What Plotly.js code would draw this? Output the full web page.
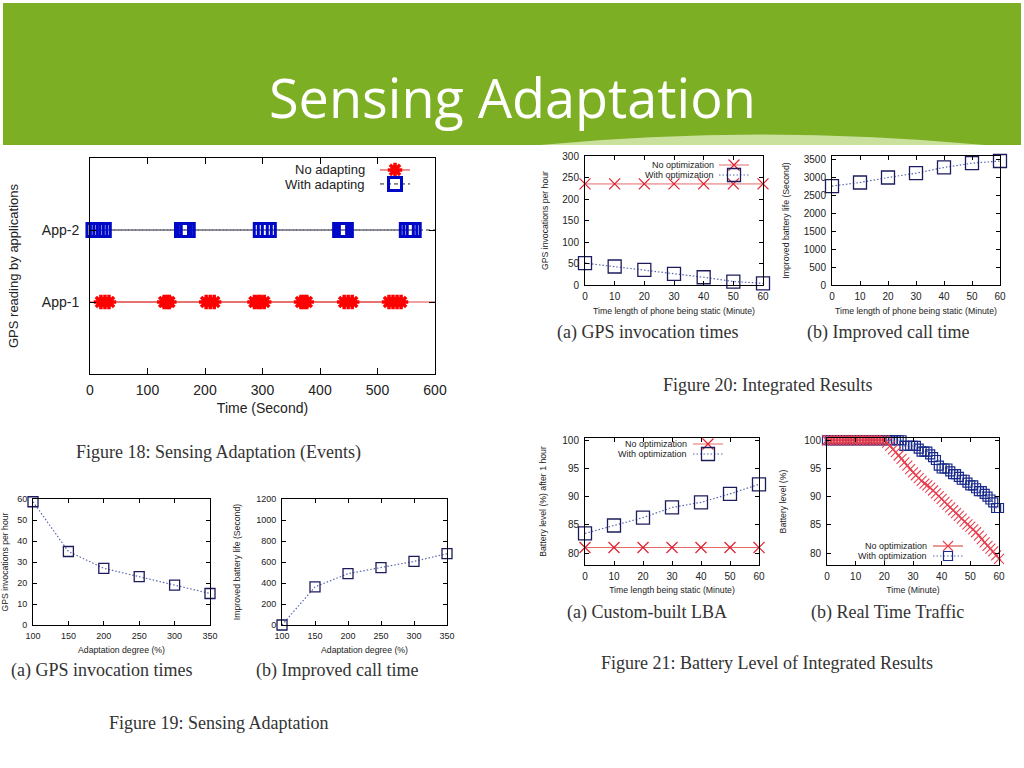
<!DOCTYPE html>
<html><head><meta charset="utf-8">
<script src="https://cdn.plot.ly/plotly-3.0.1.min.js"></script>
<style>html,body{margin:0;padding:0;background:#fff;}#chart{width:1024px;height:768px;}</style>
</head><body><div id="chart"></div>
<script>
// ---------- DATA ----------
// Figure 18: Sensing Adaptation (Events)
const apps = ['App-1', 'App-2'];
const fig18Span = [0, 600];
const app1Events = [19, 26, 33, 129, 134, 138, 202, 209, 216, 286, 292, 297, 303, 367, 372, 377, 442, 449, 456, 520, 527, 534, 541];
const app2Events = [6, 12, 18, 24, 160, 165, 170, 297, 304, 311, 435, 440, 445, 551, 557, 563];
// Figure 19
const adaptDegree = [100, 150, 200, 250, 300, 350];
const gpsByDegree = [58.7, 35, 27, 23, 19, 15];
const callByDegree = [0, 363, 489, 546, 606, 679];
// Figure 20
const staticMinutes = [0, 10, 20, 30, 40, 50, 60];
const gpsNoOpt = [235, 235, 235, 235, 235, 235, 235];
const gpsWithOpt = [51, 43, 35, 26, 18, 8, 4];
const callTimeGain = [2760, 2860, 3000, 3120, 3280, 3400, 3460];
// Figure 21 (a)
const lbaNoOpt = [81, 81, 81, 81, 81, 81, 81];
const lbaWithOpt = [83.5, 84.9, 86.3, 88.1, 89.0, 90.5, 92.2];
// Figure 21 (b)
const trafficMinutes = [0,1,2,3,4,5,6,7,8,9,10,11,12,13,14,15,16,17,18,19,20,21,22,23,24,25,26,27,28,29,30,31,32,33,34,35,36,37,38,39,40,41,42,43,44,45,46,47,48,49,50,51,52,53,54,55,56,57,58,59,60];
const trafficNoOpt = [100,100,100,100,100,100,100,100,100,100,100,100,100,100,100,100,100,100,100,100,100,
  99.6,99.0,98.4,97.9,97.3,96.7,96.1,95.5,94.9,94.3,
  93.8,93.3,92.8,92.3,92.0,91.6,91.1,90.6,90.1,89.6,
  89.1,88.6,88.1,87.6,87.1,86.6,86.1,85.6,85.1,84.7,
  84.2,83.7,83.1,82.5,81.9,81.3,80.8,80.3,79.6,79.0];
const trafficWithOpt = [100,100,100,100,100,100,100,100,100,100,100,100,100,100,100,100,100,100,100,100,100,100,100,100,100,100,100,
  99,99,99,
  99,99,98.5,98,98,98,97.5,97,96.5,95.5,
  95,95,95,94.5,94,94,93.5,93,93,92.5,
  92,92,91.5,91,91,90.5,90,89.5,89,88,88];

// ---------- STYLE HELPERS ----------
const W = 1024, H = 768;
const px = x => x / W;
const py = y => 1 - y / H;
const SANS = 'Liberation Sans, Arial, sans-serif';
const SERIF = 'Liberation Serif, Times New Roman, serif';
const RED = '#e0202e', REDLINE = '#e86a6a', NAVY = '#1c1c5c', BLUEDOT = '#5a68b0';
const DOTS = '1.5px,2px';

function xAx(l, r, range, dtick, title, fs, tfs, standoff, anchor, extra) {
  return Object.assign({
    domain: [px(l), px(r)], range: range, dtick: dtick, anchor: anchor,
    showline: true, linecolor: '#000', linewidth: 1, mirror: 'allticks',
    ticks: 'inside', ticklen: 4, tickcolor: '#000', showgrid: false, zeroline: false,
    ticklabelstandoff: 2,
    tickfont: {family: SANS, size: fs, color: '#222'},
    title: {text: title, font: {family: SANS, size: tfs, color: '#222'}, standoff: standoff},
    fixedrange: true
  }, extra || {});
}
function yAx(t, b, range, dtick, title, fs, tfs, standoff, anchor, extra) {
  return Object.assign({
    domain: [py(b), py(t)], range: range, dtick: dtick, anchor: anchor,
    showline: true, linecolor: '#000', linewidth: 1, mirror: 'allticks',
    ticks: 'inside', ticklen: 4, tickcolor: '#000', showgrid: false, zeroline: false,
    ticklabelstandoff: 3,
    tickfont: {family: SANS, size: fs, color: '#222'},
    title: {text: title, font: {family: SANS, size: tfs, color: '#222'}, standoff: standoff},
    fixedrange: true
  }, extra || {});
}
function legendAt(leftPx, rowPy, size) {
  return {x: px(leftPx), y: py(rowPy), xanchor: 'left', yanchor: 'middle',
    bgcolor: 'rgba(0,0,0,0)', borderwidth: 0, itemwidth: 30,
    font: {family: SANS, size: size, color: '#222'}};
}
function label(text, xPx, yPx, size, anchor, family, color) {
  return {text: text, x: px(xPx), y: py(yPx), xref: 'paper', yref: 'paper',
    xanchor: anchor || 'center', yanchor: 'middle', showarrow: false, borderpad: 0,
    font: {family: family || SANS, size: size, color: color || '#222'}};
}

// ---------- TRACES ----------
const traces = [
  // Figure 18
  {x: fig18Span, y: [apps[0], apps[0]], xaxis: 'x', yaxis: 'y', mode: 'lines',
   line: {color: '#e04545', width: 1.2}, showlegend: false, hoverinfo: 'skip'},
  {x: fig18Span, y: [apps[1], apps[1]], xaxis: 'x', yaxis: 'y', mode: 'lines',
   line: {color: '#202038', width: 1, dash: '4px,3px'}, showlegend: false, hoverinfo: 'skip'},
  {x: app1Events, y: app1Events.map(() => apps[0]), xaxis: 'x', yaxis: 'y', mode: 'lines+markers',
   name: ' ', legend: 'legend', cliponaxis: false,
   line: {color: '#e04545', width: 1.2},
   marker: {symbol: 'asterisk-open', size: 12, color: '#ff0000', line: {color: '#ff0000', width: 3.5}}},
  {x: app2Events, y: app2Events.map(() => apps[1]), xaxis: 'x', yaxis: 'y', mode: 'lines+markers',
   name: ' ', legend: 'legend2', cliponaxis: false,
   line: {color: '#202038', width: 1, dash: '4px,3px'},
   marker: {symbol: 'square-open', size: 13, color: '#0008c8', line: {color: '#0008c8', width: 3}}},
  // Figure 19 (a)
  {x: adaptDegree, y: gpsByDegree, xaxis: 'x2', yaxis: 'y2', mode: 'lines+markers', showlegend: false, cliponaxis: false,
   line: {color: BLUEDOT, width: 1.2, dash: DOTS},
   marker: {symbol: 'square-open', size: 10, color: NAVY, line: {color: NAVY, width: 1.3}}},
  // Figure 19 (b)
  {x: adaptDegree, y: callByDegree, xaxis: 'x3', yaxis: 'y3', mode: 'lines+markers', showlegend: false, cliponaxis: false,
   line: {color: BLUEDOT, width: 1.2, dash: DOTS},
   marker: {symbol: 'square-open', size: 10, color: NAVY, line: {color: NAVY, width: 1.3}}},
  // Figure 20 (a)
  {x: staticMinutes, y: gpsNoOpt, xaxis: 'x4', yaxis: 'y4', mode: 'lines+markers', name: ' ', legend: 'legend3', cliponaxis: false,
   line: {color: REDLINE, width: 1},
   marker: {symbol: 'x-thin-open', size: 11, color: RED, line: {color: RED, width: 1.2}}},
  {x: staticMinutes, y: gpsWithOpt, xaxis: 'x4', yaxis: 'y4', mode: 'lines+markers', name: ' ', legend: 'legend4', cliponaxis: false,
   line: {color: BLUEDOT, width: 1.2, dash: DOTS},
   marker: {symbol: 'square-open', size: 13, color: NAVY, line: {color: NAVY, width: 1.3}}},
  // Figure 20 (b)
  {x: staticMinutes, y: callTimeGain, xaxis: 'x5', yaxis: 'y5', mode: 'lines+markers', showlegend: false, cliponaxis: false,
   line: {color: BLUEDOT, width: 1.2, dash: DOTS},
   marker: {symbol: 'square-open', size: 13, color: NAVY, line: {color: NAVY, width: 1.3}}},
  // Figure 21 (a)
  {x: staticMinutes, y: lbaNoOpt, xaxis: 'x6', yaxis: 'y6', mode: 'lines+markers', name: ' ', legend: 'legend5', cliponaxis: false,
   line: {color: REDLINE, width: 1},
   marker: {symbol: 'x-thin-open', size: 11, color: RED, line: {color: RED, width: 1.2}}},
  {x: staticMinutes, y: lbaWithOpt, xaxis: 'x6', yaxis: 'y6', mode: 'lines+markers', name: ' ', legend: 'legend6', cliponaxis: false,
   line: {color: BLUEDOT, width: 1.2, dash: DOTS},
   marker: {symbol: 'square-open', size: 13, color: NAVY, line: {color: NAVY, width: 1.3}}},
  // Figure 21 (b)
  {x: trafficMinutes, y: trafficWithOpt, xaxis: 'x7', yaxis: 'y7', mode: 'lines+markers', name: ' ', legend: 'legend8', cliponaxis: false,
   line: {color: BLUEDOT, width: 1.2, dash: DOTS},
   marker: {symbol: 'square-open', size: 9, color: '#1a2a8a', line: {color: '#1a2a8a', width: 1.2}}},
  {x: trafficMinutes, y: trafficNoOpt, xaxis: 'x7', yaxis: 'y7', mode: 'lines+markers', name: ' ', legend: 'legend7', cliponaxis: false,
   line: {color: '#d83030', width: 1.2},
   marker: {symbol: 'x-thin-open', size: 10, color: '#e84050', line: {color: '#e84050', width: 1.1}}}
];

// ---------- LAYOUT ----------
const layout = {
  width: W, height: H, margin: {l: 0, r: 0, t: 0, b: 0},
  paper_bgcolor: '#fff', plot_bgcolor: '#fff', hovermode: false,
  // Figure 18
  xaxis: xAx(90, 435, [0, 600], 100, 'Time (Second)', 14, 14, 6, 'y', {ticklen: 6, ticklabelstandoff: 3}),
  yaxis: yAx(158, 374, [-1, 2], null, 'GPS reading by applications', 14, 13, 20, 'x',
             {type: 'category', categoryorder: 'array', categoryarray: apps, ticklen: 6, ticklabelstandoff: 7}),
  // Figure 19
  xaxis2: xAx(33, 210, [100, 350], 50, 'Adaptation degree (%)', 9, 8.7, 7, 'y2'),
  yaxis2: yAx(499, 625, [0, 60], 10, 'GPS invocations per hour', 9, 8.7, 12, 'x2'),
  xaxis3: xAx(282, 447, [100, 350], 50, 'Adaptation degree (%)', 9, 8.7, 7, 'y3'),
  yaxis3: yAx(499, 625, [0, 1200], 200, 'Improved battery life (Second)', 9, 8.7, 14, 'x3'),
  // Figure 20
  xaxis4: xAx(585, 763, [0, 60], 10, 'Time length of phone being static (Minute)', 10, 8.7, 6, 'y4'),
  yaxis4: yAx(156, 285, [0, 300], 50, 'GPS invocations per hour', 10, 8.7, 12, 'x4'),
  xaxis5: xAx(832, 1000, [0, 60], 10, 'Time length of phone being static (Minute)', 10, 8.7, 6, 'y5'),
  yaxis5: yAx(156, 285, [0, 3600], 500, 'Improved battery life (Second)', 10, 8.7, 12, 'x5'),
  // Figure 21
  xaxis6: xAx(585, 759, [0, 60], 10, 'Time length being static (Minute)', 10, 8.7, 5, 'y6'),
  yaxis6: yAx(438, 565, [77.9, 100.4], 5, 'Battery level (%) after 1 hour', 10, 8.7, 14, 'x6'),
  xaxis7: xAx(827, 999, [0, 60], 10, 'Time (Minute)', 10, 8.7, 5, 'y7'),
  yaxis7: yAx(438, 565, [77.9, 100.4], 5, 'Battery level (%)', 10, 8.7, 16, 'x7'),
  // Legends (one entry each, text drawn as labels to their left, gnuplot style)
  legend: legendAt(375, 170, 13),
  legend2: legendAt(375, 184, 13),
  legend3: legendAt(714, 165, 9),
  legend4: legendAt(714, 175, 9),
  legend5: legendAt(688, 444, 9),
  legend6: legendAt(688, 454, 9),
  legend7: legendAt(928, 546, 9),
  legend8: legendAt(928, 556, 9),
  shapes: [
    {type: 'rect', xref: 'paper', yref: 'paper', x0: px(3), x1: px(1021), y0: py(145), y1: py(3),
     fillcolor: '#7daf24', line: {width: 0}, layer: 'below'},
    {type: 'path', xref: 'paper', yref: 'paper', layer: 'below',
     path: 'M ' + px(540) + ',' + py(145) + ' Q ' + px(760) + ',' + py(124) + ' ' + px(985) + ',' + py(145) + ' Z',
     fillcolor: 'rgba(214,234,178,0.85)', line: {width: 0}}
  ],
  annotations: [
    label('Sensing Adaptation', 512, 97, 54, 'center', 'Open Sans, Lato, sans-serif', '#ffffff'),
    // legend texts
    label('No adapting', 366, 170, 13, 'right'),
    label('With adapting', 366, 184, 13, 'right'),
    label('No optimization', 715, 165, 9, 'right'),
    label('With optimization', 715, 175, 9, 'right'),
    label('No optimization', 688, 444, 9, 'right'),
    label('With optimization', 688, 454, 9, 'right'),
    label('No optimization', 928, 546, 9, 'right'),
    label('With optimization', 928, 556, 9, 'right'),
    // captions
    label('Figure 18: Sensing Adaptation (Events)', 218, 452, 18, 'center', SERIF, '#333'),
    label('(a) GPS invocation times', 101, 670, 18, 'center', SERIF, '#333'),
    label('(b) Improved call time', 337, 670, 18, 'center', SERIF, '#333'),
    label('Figure 19: Sensing Adaptation', 219, 723, 18, 'center', SERIF, '#333'),
    label('(a) GPS invocation times', 647, 332, 18, 'center', SERIF, '#333'),
    label('(b) Improved call time', 888, 332, 18, 'center', SERIF, '#333'),
    label('Figure 20: Integrated Results', 767, 385, 18, 'center', SERIF, '#333'),
    label('(a) Custom-built LBA', 647, 612, 18, 'center', SERIF, '#333'),
    label('(b) Real Time Traffic', 887, 612, 18, 'center', SERIF, '#333'),
    label('Figure 21: Battery Level of Integrated Results', 767, 663, 18, 'center', SERIF, '#333')
  ]
};

Plotly.newPlot('chart', traces, layout, {staticPlot: true, displayModeBar: false});
</script>
</body></html>
